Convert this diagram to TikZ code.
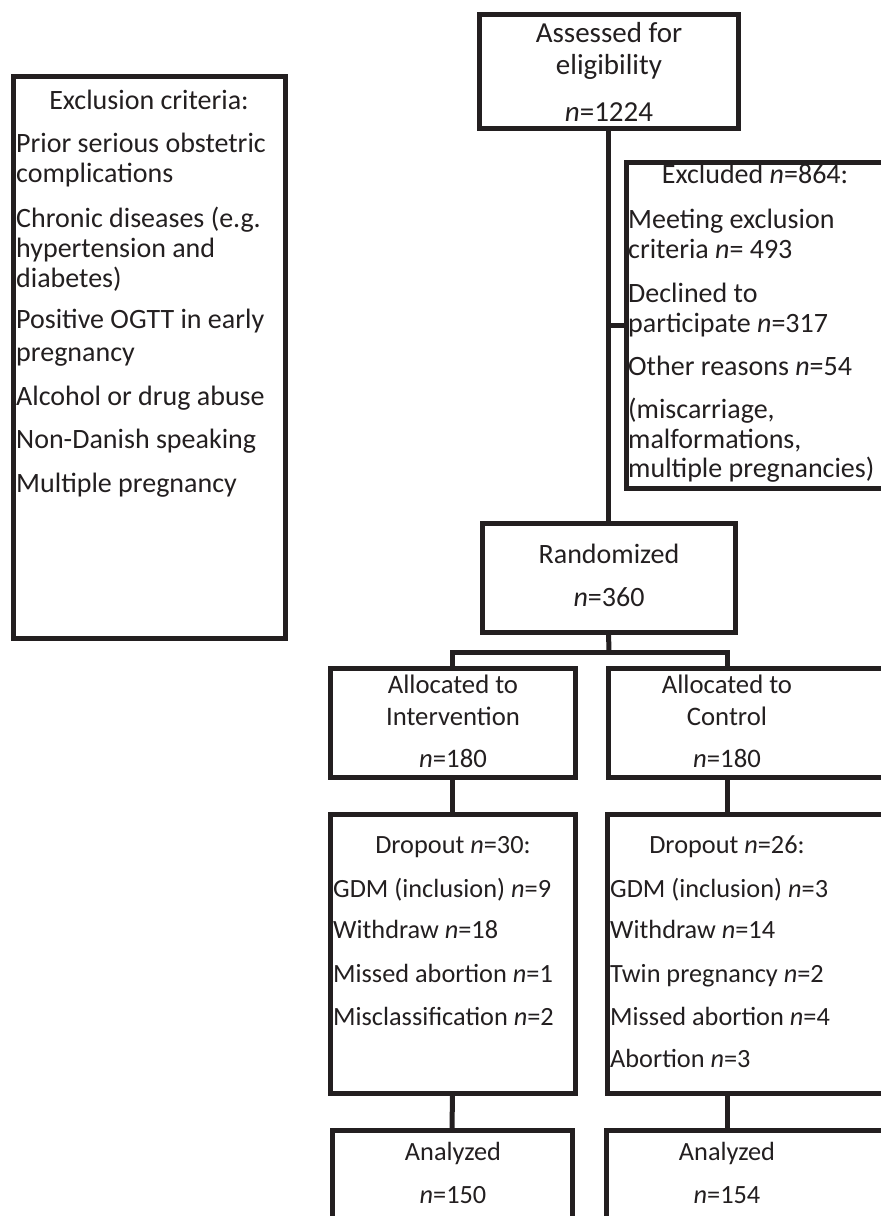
\documentclass[tikz,border=0pt]{standalone}
\usepackage{fontspec}
\setmainfont{Carlito}
\newcommand\nn{\textit{n}}
\definecolor{ink}{RGB}{35,31,32}
\begin{document}
\begin{tikzpicture}[x=1pt,y=-1pt,
  box/.style={draw=ink, line width=5pt, rectangle, inner sep=0pt, outer sep=0pt, anchor=north west},
  txt/.style={font=\fontsize{#1}{#1}\selectfont, text=ink, inner sep=0pt, anchor=base west},
  txt/.default=26.3,
  ctxt/.style={txt=#1, anchor=base},
  ctxt/.default=26.3,
  conn/.style={draw=ink, line width=5pt}]
\useasboundingbox (0,0) rectangle (881,1216);
\fill[white] (0,0) rectangle (881,1216);
\clip (0,0) rectangle (881,1216);

% boxes
\node[box, minimum width=272pt, minimum height=562pt] (crit) at (13,76) {};
\node[box, minimum width=259pt, minimum height=114pt] (assess) at (479,14) {};
\node[box, minimum width=257pt, minimum height=326pt] (excl) at (626,162) {};
\node[box, minimum width=253pt, minimum height=109pt] (rand) at (482,523) {};
\node[box, minimum width=245pt, minimum height=109pt] (allocI) at (330,668) {};
\node[box, minimum width=300pt, minimum height=109pt] (allocC) at (608,668) {};
\node[box, minimum width=245pt, minimum height=279pt] (dropI) at (330,814) {};
\node[box, minimum width=300pt, minimum height=279pt] (dropC) at (607,814) {};
\node[box, minimum width=240pt, minimum height=120pt] (analI) at (332,1130) {};
\node[box, minimum width=300pt, minimum height=120pt] (analC) at (606,1130) {};

% connectors
\coordinate (ctrl) at (727,0);
\coordinate (split) at (609,652);
\draw[conn] (assess.south) -- (rand.north);
\draw[conn] (assess.south |- excl.west) -- (excl.west);
\draw[conn] (rand.south) -- (split);
\draw[conn] (allocI.north) |- (split) -| (allocC.north -| ctrl);
\draw[conn] (allocI.south) -- (dropI.north);
\draw[conn] (allocC.south -| ctrl) -- (dropC.north -| ctrl);
\draw[conn] (dropI.south) -- (analI.north);
\draw[conn] (dropC.south -| ctrl) -- (analC.north -| ctrl);

% Exclusion criteria
\node[ctxt=28] (critH) at (149,109) {Exclusion criteria:};
\foreach \t/\y [count=\i] in {{Prior serious obstetric}/152, {complications}/182,
  {Chronic diseases (e.g.}/227, {hypertension and}/257, {diabetes)}/287,
  {Positive OGTT in early}/328, {pregnancy}/361, {Alcohol or drug abuse}/405,
  {Non-Danish speaking}/448, {Multiple pregnancy}/492}
  \node[txt=28] (crit\i) at (16,\y) {\t};

% Assessed
\node[ctxt=29] (as1) at (609,42) {Assessed for};
\node[ctxt=29] (as2) at (609,74) {eligibility};
\node[ctxt=29] (as3) at (609,121) {\nn=1224};

% Excluded
\node[ctxt=28] (exH) at (755,183) {Excluded \nn=864:};
\foreach \t/\y [count=\i] in {{Meeting exclusion}/228, {criteria \nn= 493}/258,
  {Declined to}/302, {participate \nn=317}/332, {Other reasons \nn=54}/375,
  {(miscarriage,}/418, {malformations,}/448, {multiple pregnancies)}/477}
  \node[txt=28] (ex\i) at (628,\y) {\t};

% Randomized
\node[ctxt=28] (ra1) at (609,563) {Randomized};
\node[ctxt=28] (ra2) at (609,606) {\nn=360};

% Allocated
\node[ctxt=26.7] (ai1) at (453,693) {Allocated to};
\node[ctxt=26.7] (ai2) at (453,725) {Intervention};
\node[ctxt=26.7] (ai3) at (453,767) {\nn=180};
\node[ctxt=26.7] (ac1) at (727,693) {Allocated to};
\node[ctxt=26.7] (ac2) at (727,725) {Control};
\node[ctxt=26.7] (ac3) at (727,767) {\nn=180};

% Dropout
\node[ctxt] (diH) at (453,853) {Dropout \nn=30:};
\foreach \t/\y [count=\i] in {{GDM (inclusion) \nn=9}/897, {Withdraw \nn=18}/938,
  {Missed abortion \nn=1}/982, {Misclassification \nn=2}/1025}
  \node[txt] (di\i) at (333,\y) {\t};
\node[ctxt] (dcH) at (727,853) {Dropout \nn=26:};
\foreach \t/\y [count=\i] in {{GDM (inclusion) \nn=3}/897, {Withdraw \nn=14}/938,
  {Twin pregnancy \nn=2}/982, {Missed abortion \nn=4}/1025, {Abortion \nn=3}/1067}
  \node[txt] (dc\i) at (610,\y) {\t};

% Analyzed
\node[ctxt] (an1) at (453,1160) {Analyzed};
\node[ctxt] (an2) at (453,1203) {\nn=150};
\node[ctxt] (ac4) at (727,1160) {Analyzed};
\node[ctxt] (ac5) at (727,1203) {\nn=154};
\end{tikzpicture}
\end{document}
